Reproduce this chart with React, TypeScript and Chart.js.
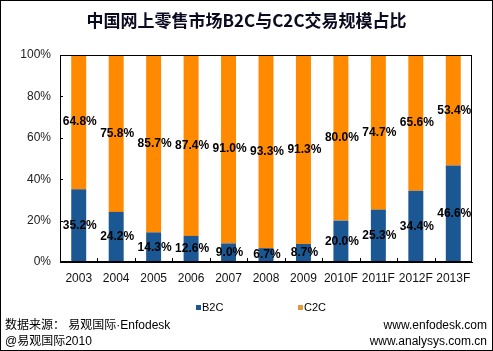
import React, { useEffect, useRef } from "react";
import { Chart, registerables } from "chart.js";

Chart.register(...registerables);

const categories = ["2003", "2004", "2005", "2006", "2007", "2008", "2009", "2010F", "2011F", "2012F", "2013F"];
const b2cValues = [35.2, 24.2, 14.3, 12.6, 9.0, 6.7, 8.7, 20.0, 25.3, 34.4, 46.6];
const c2cValues = [64.8, 75.8, 85.7, 87.4, 91.0, 93.3, 91.3, 80.0, 74.7, 65.6, 53.4];
const seriesNames = ["B2C", "C2C"];
const seriesColors = ["#1B5893", "#FF8A00"];
const yTicks = [0, 20, 40, 60, 80, 100];

const FONT = 'Arial, "Liberation Sans", "Noto Sans CJK SC", sans-serif';

const decorPlugin = {
  id: "decor",
  afterDatasetsDraw(chart: any) {
    const ctx = chart.ctx;
    ctx.save();
    ctx.font = "bold 12px " + FONT;
    ctx.fillStyle = "#000";
    ctx.textAlign = "center";
    ctx.textBaseline = "middle";
    chart.data.datasets.forEach((ds: any, di: number) => {
      const meta = chart.getDatasetMeta(di);
      meta.data.forEach((el: any, i: number) => {
        const p = el.getProps(["x", "y", "base"], true);
        ctx.fillText(ds.data[i].toFixed(1) + "%", p.x + 1, (p.y + p.base) / 2);
      });
    });
    ctx.restore();
  },
  afterDraw(chart: any) {
    const ctx = chart.ctx;
    const a = chart.chartArea;
    const xs = chart.scales.x;
    const ys = chart.scales.y;
    ctx.save();
    ctx.strokeStyle = "#000";
    ctx.lineWidth = 1;
    ctx.strokeRect(a.left + 0.5, a.top + 0.5, a.right - a.left - 1, a.bottom - a.top - 1);
    ctx.beginPath();
    const n = categories.length;
    const half = (xs.getPixelForValue(1) - xs.getPixelForValue(0)) / 2;
    for (let i = 1; i < n; i++) {
      const x = Math.round(xs.getPixelForValue(i) - half) + 0.5;
      ctx.moveTo(x, a.bottom);
      ctx.lineTo(x, a.bottom - 4);
    }
    yTicks.forEach((t) => {
      if (t === 0 || t === 100) return;
      const y = Math.round(ys.getPixelForValue(t)) + 0.5;
      ctx.moveTo(a.left, y);
      ctx.lineTo(a.left + 3, y);
    });
    ctx.stroke();
    ctx.restore();
  },
};

export default function App() {
  const ref = useRef<HTMLCanvasElement>(null);
  useEffect(() => {
    document.body.style.margin = "0";
    const chart = new Chart(ref.current!, {
      type: "bar",
      data: {
        labels: categories,
        datasets: [
          { label: seriesNames[0], data: b2cValues, backgroundColor: seriesColors[0], barPercentage: 0.4, categoryPercentage: 1 },
          { label: seriesNames[1], data: c2cValues, backgroundColor: seriesColors[1], barPercentage: 0.4, categoryPercentage: 1 },
        ],
      },
      options: {
        responsive: false,
        animation: false,
        layout: { padding: { left: 0, right: 20, top: 54, bottom: 63 } },
        plugins: { legend: { display: false }, title: { display: false }, tooltip: { enabled: false } },
        scales: {
          x: {
            stacked: true,
            grid: { display: false, drawTicks: false },
            border: { display: true, color: "#000" },
            ticks: { color: "#111", font: { family: FONT, size: 12 }, padding: 9, maxRotation: 0, autoSkip: false },
            afterFit: (s: any) => { s.height = 25; },
          },
          y: {
            stacked: true,
            min: 0,
            max: 100,
            grid: { display: false, drawTicks: false },
            border: { display: true, color: "#000" },
            afterBuildTicks: (s: any) => { s.ticks = yTicks.map((v) => ({ value: v })); },
            ticks: { color: "#222", font: { family: FONT, size: 12 }, padding: 9, callback: (v: any) => v + "%" },
            afterFit: (s: any) => { s.width = 59; },
          },
        },
      },
      plugins: [decorPlugin],
    });
    return () => chart.destroy();
  }, []);

  const abs = (o: any) => ({ position: "absolute" as const, whiteSpace: "nowrap" as const, ...o });

  return (
    <div style={{ position: "relative", width: 493, height: 351, boxSizing: "border-box", border: "1px solid #000", background: "#fff", fontFamily: FONT, color: "#000", overflow: "hidden" }}>
      <canvas ref={ref} width={491} height={349} style={{ position: "absolute", left: 0, top: 0, width: 491, height: 349 }} />
      <div style={abs({ left: 0, width: 491, top: 9, textAlign: "center", fontSize: 17, lineHeight: "20px", fontWeight: "bold", fontFamily: '"Noto Sans CJK SC", ' + FONT, color: "#0a0a20" })}>
        中国网上零售市场B2C与C2C交易规模占比
      </div>
      <div style={abs({ left: 195, top: 299, fontSize: 11, lineHeight: "14px", display: "flex", alignItems: "center" })}>
        <span style={{ display: "inline-block", width: 5, height: 5, background: seriesColors[0], marginRight: 1 }} />
        <span>{seriesNames[0]}</span>
      </div>
      <div style={abs({ left: 297, top: 299, fontSize: 11, lineHeight: "14px", display: "flex", alignItems: "center" })}>
        <span style={{ display: "inline-block", width: 5, height: 5, background: "#E09A3C", marginRight: 1 }} />
        <span>{seriesNames[1]}</span>
      </div>
      <div style={abs({ left: 4, top: 317, fontSize: 12, lineHeight: "14px" })}>数据来源： 易观国际·Enfodesk</div>
      <div style={abs({ left: 4, top: 333, fontSize: 12, lineHeight: "14px" })}>@易观国际2010</div>
      <div style={abs({ right: 5, top: 317, fontSize: 12, lineHeight: "14px" })}>www.enfodesk.com</div>
      <div style={abs({ right: 5, top: 333, fontSize: 12, lineHeight: "14px" })}>www.analysys.com.cn</div>
    </div>
  );
}
